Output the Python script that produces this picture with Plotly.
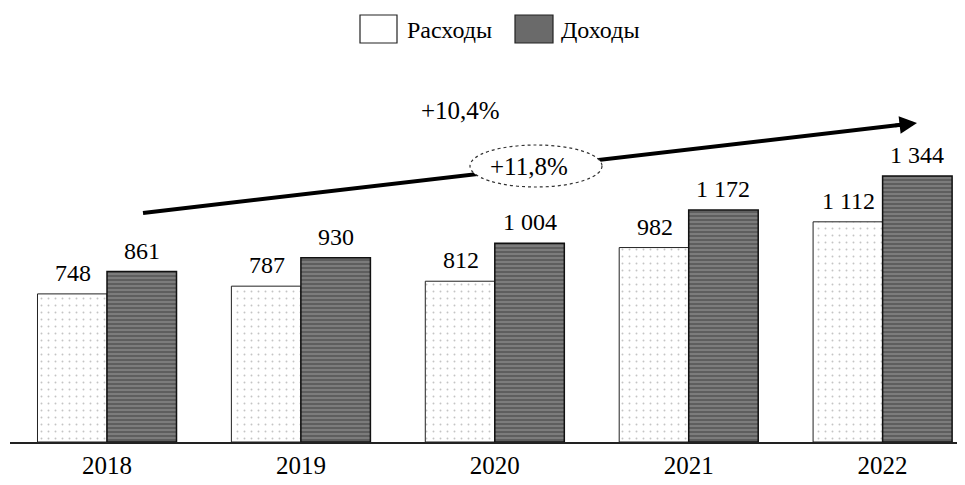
import plotly.graph_objects as go

years = ["2018", "2019", "2020", "2021", "2022"]
expenses = [748, 787, 812, 982, 1112]
incomes = [861, 930, 1004, 1172, 1344]
name_exp = "Расходы"
name_inc = "Доходы"
growth_top = "+10,4%"
growth_ellipse = "+11,8%"

def fmt(v):
    return f"{v:,}".replace(",", " ")

xs = list(range(len(years)))
FONT = "Liberation Serif"

# layout geometry (figure pixels); the page body adds an 8px offset
W, H = 965, 485
ML, MB = 2, 51
PLOT_H = H - MB           # plot top at figure y=0
X0_PX = 99                # centre of first group (fig px)
PX_PER_CAT = 193.9
PX_PER_UNIT = 0.198
Y_MAX = PLOT_H / PX_PER_UNIT
X_MIN = -(X0_PX - ML) / PX_PER_CAT
X_MAX = X_MIN + (W - ML) / PX_PER_CAT
BARGAP = 0.283
HALF_BAR = (1 - BARGAP) / 4   # offset of each bar centre from group centre

def dx(px):  # screen px -> data x
    return (px - 8 - X0_PX) / PX_PER_CAT

def dy(py):  # screen px -> data y
    return (PLOT_H - (py - 8)) / PX_PER_UNIT

fig = go.Figure()
fig.add_trace(go.Bar(
    x=xs, y=expenses, name=name_exp,
    marker=dict(color="white", line=dict(color="#222", width=1),
                pattern=dict(shape=".", fgcolor="#8a8a8a", size=7, solidity=0.06)),
    showlegend=False,
))
fig.add_trace(go.Bar(
    x=xs, y=incomes, name=name_inc,
    marker=dict(color="#5e5e5e", line=dict(color="#111", width=1.5),
                pattern=dict(shape="-", fgcolor="#b5b5b5", size=4, solidity=0.35)),
    showlegend=False,
))

# value labels above bars
for i, v in enumerate(expenses):
    fig.add_annotation(x=xs[i] - HALF_BAR, y=v, xref="x", yref="y", text=fmt(v),
                       showarrow=False, yanchor="bottom", yshift=6, xshift=1,
                       font=dict(family=FONT, size=24, color="black"))
for i, v in enumerate(incomes):
    fig.add_annotation(x=xs[i] + HALF_BAR, y=v, xref="x", yref="y", text=fmt(v),
                       showarrow=False, yanchor="bottom", yshift=6,
                       font=dict(family=FONT, size=24, color="black"))

# growth arrow: line + ellipse + arrowhead
xs0, ys0 = dx(143), dy(213)
xe, ye = dx(917), dy(123)
slope = (ye - ys0) / (xe - xs0)
fig.add_shape(type="line", xref="x", yref="y", x0=xs0, y0=ys0, x1=xe - 0.06,
              y1=ye - slope * 0.06, line=dict(color="black", width=4), layer="above")
fig.add_shape(type="circle", xref="x", yref="y", x0=dx(470), x1=dx(602), y0=dy(187), y1=dy(145),
              fillcolor="white", line=dict(color="#333", width=1.2, dash="dot"), layer="above")
fig.add_annotation(x=xe, y=ye, ax=xe - 0.12, ay=ye - slope * 0.12,
                   xref="x", yref="y", axref="x", ayref="y", text="", showarrow=True,
                   arrowhead=2, arrowsize=1.0, arrowwidth=3.5, arrowcolor="black")
fig.add_annotation(x=dx(529), y=dy(166), xref="x", yref="y",
                   text=growth_ellipse, showarrow=False,
                   font=dict(family=FONT, size=25, color="black"))
fig.add_annotation(x=dx(460), y=dy(110), xref="x", yref="y", text=growth_top, showarrow=False,
                   font=dict(family=FONT, size=25, color="black"))

# legend drawn manually (larger swatches like the reference)
fig.add_shape(type="rect", xref="x", yref="y", x0=dx(360), x1=dx(397), y0=dy(43), y1=dy(15),
              fillcolor="white", line=dict(color="#222", width=1.2), layer="above")
fig.add_shape(type="rect", xref="x", yref="y", x0=dx(515), x1=dx(553), y0=dy(43), y1=dy(15),
              fillcolor="#6a6a6a", line=dict(color="#222", width=1.2), layer="above")
fig.add_annotation(x=dx(405), y=dy(30), xref="x", yref="y", text=name_exp, showarrow=False,
                   xanchor="left", font=dict(family=FONT, size=24, color="black"))
fig.add_annotation(x=dx(559), y=dy(30), xref="x", yref="y", text=name_inc, showarrow=False,
                   xanchor="left", font=dict(family=FONT, size=24, color="black"))

fig.update_layout(
    width=W, height=H,
    margin=dict(l=ML, r=0, t=0, b=MB),
    paper_bgcolor="white", plot_bgcolor="white",
    barmode="group", bargap=BARGAP, bargroupgap=0,
    showlegend=False,
    xaxis=dict(range=[X_MIN, X_MAX], tickmode="array", tickvals=xs, ticktext=years,
               showline=True, linecolor="#222", linewidth=1.5, showgrid=False, ticks="",
               tickfont=dict(family=FONT, size=25, color="black"), zeroline=False,
               automargin=False),
    yaxis=dict(range=[0, Y_MAX], visible=False, showgrid=False, zeroline=False),
)

fig.write_html("out.html")
